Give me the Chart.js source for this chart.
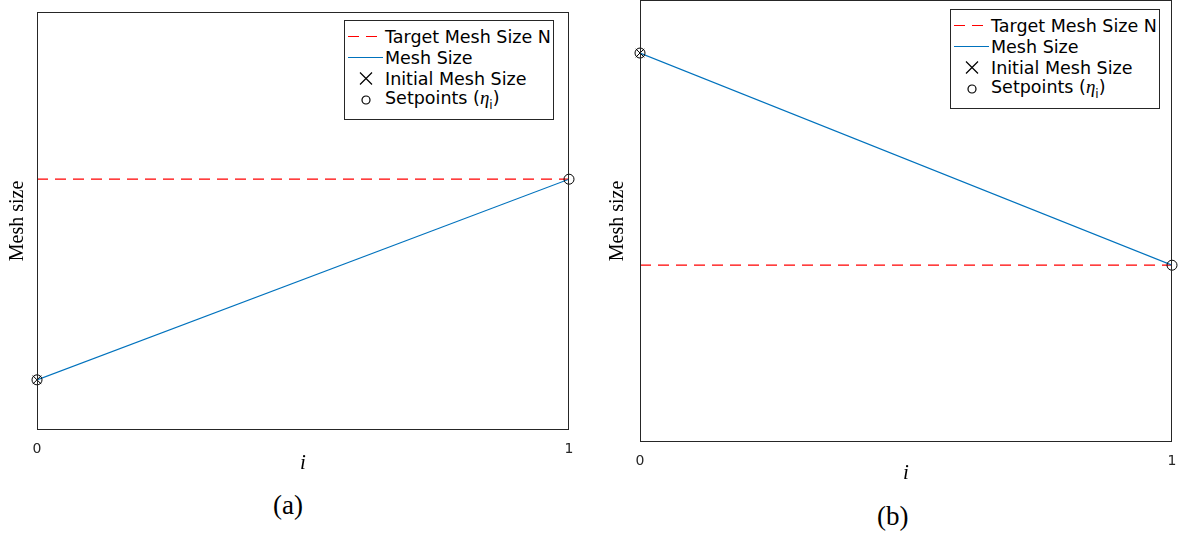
<!DOCTYPE html>
<html>
<head>
<meta charset="utf-8">
<script src="https://cdn.jsdelivr.net/npm/chart.js@4.4.1/dist/chart.umd.min.js"></script>
<style>
  body { margin: 0; width: 1183px; height: 538px; background: #fff; position: relative; overflow: hidden; font-family: "DejaVu Sans", sans-serif; }
  .panel { position: absolute; }
  .legend { position: absolute; background: #fff; border: 1px solid #262626; box-sizing: border-box; width: 210px; height: 100px; padding-top: 5px; }
  .legend .row { height: 21px; display: flex; align-items: center; font-size: 17.5px; color: #000; white-space: nowrap; }
  .legend .sample { width: 40px; height: 21px; flex: none; }
  .legend i { font-family: "Liberation Serif", serif; font-size: 19px; }
  .legend sub { font-size: 12px; }
  .caption { position: absolute; font-family: "Liberation Serif", serif; font-size: 27px; color: #000; }
</style>
</head>
<body>
<div class="panel" style="left:0;top:0;width:600px;height:480px;"><canvas id="chartA"></canvas></div>
<div class="panel" style="left:600px;top:0;width:583px;height:490px;"><canvas id="chartB"></canvas></div>

<div class="legend" id="legendA" style="left:344px;top:20px;"></div>
<div class="legend" id="legendB" style="left:950px;top:9px;"></div>

<div class="caption" style="left:273px;top:490px;">(a)</div>
<div class="caption" style="left:877px;top:501px;">(b)</div>

<script>
// step index
const steps = [0, 1];
const xTicks = [0, 1];

// panel (a): mesh grows up to the target
const targetA = 0.6;
const meshA = [0.12, 0.6];

// panel (b): mesh shrinks down to the target
const targetB = 0.4;
const meshB = [0.88, 0.4];

const legendLabels = ["Target Mesh Size N", "Mesh Size", "Initial Mesh Size", "Setpoints"];

const framePlugin = {
    id: "frame",
    afterDraw(chart) {
        const ctx = chart.ctx;
        const a = chart.chartArea;
        ctx.save();
        ctx.strokeStyle = "#262626";
        ctx.lineWidth = 1;
        ctx.strokeRect(a.left + 0.5, a.top + 0.5, a.width - 1, a.height - 1);
        ctx.restore();
    }
};

function makeChart(id, target, mesh, pad, yWidth, xHeight) {
    const ctx = document.getElementById(id);
    const pts = (vals) => steps.map((s, i) => ({ x: s, y: vals[i] }));
    return new Chart(ctx, {
        type: "scatter",
        data: {
            datasets: [
                {
                    label: legendLabels[3],
                    data: pts(mesh),
                    pointStyle: "circle",
                    pointRadius: 5,
                    pointBorderColor: "#000",
                    pointBackgroundColor: "rgba(0,0,0,0)",
                    pointBorderWidth: 1,
                    showLine: false,
                    clip: false
                },
                {
                    label: legendLabels[2],
                    data: [{ x: steps[0], y: mesh[0] }],
                    pointStyle: "crossRot",
                    pointRadius: 6,
                    pointBorderColor: "#000",
                    pointBorderWidth: 1,
                    showLine: false,
                    clip: false
                },
                {
                    label: legendLabels[1],
                    data: pts(mesh),
                    showLine: true,
                    borderColor: "#0072BD",
                    borderWidth: 1.2,
                    pointRadius: 0
                },
                {
                    label: legendLabels[0],
                    data: pts(steps.map(() => target)),
                    showLine: true,
                    borderColor: "#ff0000",
                    borderWidth: 1.2,
                    borderDash: [11, 7],
                    pointRadius: 0
                }
            ]
        },
        options: {
            responsive: true,
            maintainAspectRatio: false,
            animation: false,
            layout: { padding: pad, autoPadding: false },
            plugins: { legend: { display: false }, tooltip: { enabled: false } },
            scales: {
                x: {
                    type: "linear",
                    min: 0,
                    max: 1,
                    afterBuildTicks: (scale) => { scale.ticks = xTicks.map(v => ({ value: v })); },
                    afterFit: (scale) => { scale.height = xHeight; },
                    grid: { display: false },
                    border: { display: false },
                    ticks: { color: "#262626", font: { family: "DejaVu Sans", size: 14 }, padding: 3, maxRotation: 0 },
                    title: { display: true, text: "i", color: "#000", font: { family: "Liberation Serif", size: 21, style: "italic" }, padding: { top: 2 } }
                },
                y: {
                    min: 0,
                    max: 1,
                    afterFit: (scale) => { scale.width = yWidth; },
                    grid: { display: false },
                    border: { display: false },
                    ticks: { display: false },
                    title: { display: true, text: "Mesh size", color: "#000", font: { family: "Liberation Serif", size: 20 }, padding: { top: 6, bottom: 6 } }
                }
            }
        },
        plugins: [framePlugin]
    });
}

function buildLegend(id) {
    const box = document.getElementById(id);
    const samples = [
        '<svg class="sample" viewBox="0 0 40 21"><line x1="3" y1="10.5" x2="35" y2="10.5" stroke="#ff0000" stroke-width="1.2" stroke-dasharray="11 7"/></svg>',
        '<svg class="sample" viewBox="0 0 40 21"><line x1="3" y1="10.5" x2="38" y2="10.5" stroke="#0072BD" stroke-width="1.2"/></svg>',
        '<svg class="sample" viewBox="0 0 40 21"><path d="M15 4.5 L27 16.5 M27 4.5 L15 16.5" stroke="#000" stroke-width="1.2"/></svg>',
        '<svg class="sample" viewBox="0 0 40 21"><circle cx="21" cy="11" r="4" fill="none" stroke="#000" stroke-width="1.2"/></svg>'
    ];
    const texts = [legendLabels[0], legendLabels[1], legendLabels[2], legendLabels[3] + ' (<i>&eta;</i><sub>i</sub>)'];
    box.innerHTML = "";
    samples.forEach((s, i) => {
        box.innerHTML += `<div class="row">${s}<span>${texts[i]}</span></div>`;
    });
}

makeChart("chartA", targetA, meshA, { left: 0, right: 31, top: 12, bottom: 0 }, 37, 50);
makeChart("chartB", targetB, meshB, { left: 0, right: 11, top: 0, bottom: 0 }, 40, 48);
buildLegend("legendA");
buildLegend("legendB");
</script>
</body>
</html>
